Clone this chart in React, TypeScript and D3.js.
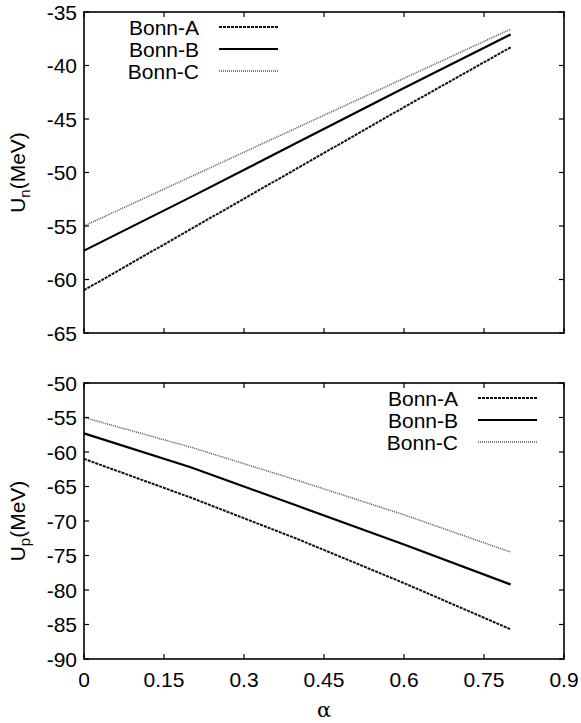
import React from 'react'
import * as d3 from 'd3'

const alphas = [0, 0.2, 0.4, 0.6, 0.8]
const series = ['Bonn-A', 'Bonn-B', 'Bonn-C']

// neutron potential U_n (MeV)
const unBonnA = [-61.0, -55.3, -49.6, -43.9, -38.3]
const unBonnB = [-57.3, -52.3, -47.2, -42.1, -37.1]
const unBonnC = [-55.0, -50.4, -45.8, -41.2, -36.6]

// proton potential U_p (MeV)
const upBonnA = [-61.0, -66.6, -72.6, -79.0, -85.7]
const upBonnB = [-57.3, -62.2, -67.8, -73.4, -79.2]
const upBonnC = [-55.0, -59.3, -64.1, -69.1, -74.5]

const xTicks = [0, 0.15, 0.3, 0.45, 0.6, 0.75, 0.9]
const unTicks = [-65, -60, -55, -50, -45, -40, -35]
const upTicks = [-90, -85, -80, -75, -70, -65, -60, -55, -50]

const W = 581
const H = 723
const left = 84
const right = 564
const font = 'Liberation Sans, Arial, sans-serif'
const fs = 21

const styles = [
  { dash: '3,1', width: 2, color: '#111' },
  { dash: null, width: 2.2, color: '#000' },
  { dash: '1,1', width: 1.5, color: '#555' },
]

function Panel({ top, bottom, domain, ticks, data, sub, legendX, legendY, showX }) {
  const x = d3.scaleLinear().domain([0, 0.9]).range([left, right])
  const y = d3.scaleLinear().domain(domain).range([bottom, top])
  const line = d3.line<number>().x((d, i) => x(alphas[i])).y(d => y(d))
  const tl = 5
  return (
    <g>
      {data.map((vals, k) => (
        <path key={k} d={line(vals) || ''} fill="none" stroke={styles[k].color}
          strokeWidth={styles[k].width} strokeDasharray={styles[k].dash || undefined} />
      ))}
      <rect x={left} y={top} width={right - left} height={bottom - top} fill="none" stroke="#000" strokeWidth={1.6} />
      {xTicks.map(t => (
        <g key={t}>
          <line x1={x(t)} x2={x(t)} y1={bottom} y2={bottom - tl} stroke="#000" strokeWidth={1.2} />
          <line x1={x(t)} x2={x(t)} y1={top} y2={top + tl} stroke="#000" strokeWidth={1.2} />
          {showX && (
            <text x={x(t)} y={bottom + 28} textAnchor="middle" fontSize={fs} fontFamily={font}>{t}</text>
          )}
        </g>
      ))}
      {ticks.map(t => (
        <g key={t}>
          <line x1={left} x2={left + tl} y1={y(t)} y2={y(t)} stroke="#000" strokeWidth={1.2} />
          <line x1={right} x2={right - tl} y1={y(t)} y2={y(t)} stroke="#000" strokeWidth={1.2} />
          <text x={left - 7} y={y(t)} dy="0.36em" textAnchor="end" fontSize={fs} fontFamily={font}>{t}</text>
        </g>
      ))}
      <text transform={`translate(25,${(top + bottom) / 2}) rotate(-90)`} textAnchor="middle" fontSize={fs} fontFamily={font}>
        U<tspan fontSize={15} dy="5">{sub}</tspan><tspan dy="-5">(MeV)</tspan>
      </text>
      {series.map((s, k) => (
        <g key={s}>
          <text x={legendX} y={legendY + k * 22} dy="0.36em" textAnchor="end" fontSize={fs} fontFamily={font}>{s}</text>
          <line x1={legendX + 20} x2={legendX + 79} y1={legendY + k * 22} y2={legendY + k * 22}
            stroke={styles[k].color} strokeWidth={styles[k].width} strokeDasharray={styles[k].dash || undefined} />
        </g>
      ))}
    </g>
  )
}

export default function App() {
  return (
    <svg width={W} height={H} style={{ position: 'absolute', left: 0, top: 0, background: '#fff' }}>
      <Panel top={12} bottom={333} domain={[-65, -35]} ticks={unTicks}
        data={[unBonnA, unBonnB, unBonnC]} sub="n" legendX={199} legendY={27} showX={false} />
      <Panel top={383} bottom={659} domain={[-90, -50]} ticks={upTicks}
        data={[upBonnA, upBonnB, upBonnC]} sub="p" legendX={458} legendY={398} showX={true} />
      <text x={(left + right) / 2} y={717} textAnchor="middle" fontSize={fs} fontFamily="DejaVu Serif, serif">α</text>
    </svg>
  )
}
